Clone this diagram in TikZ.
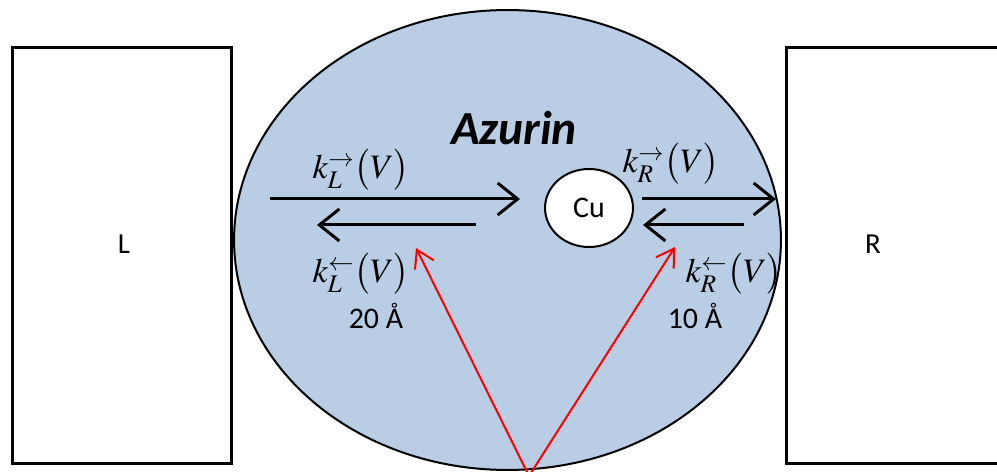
\documentclass[tikz,border=0pt]{standalone}
\usepackage{mathptmx}
\usepackage[no-math]{fontspec}
\setmainfont{Carlito}
\usetikzlibrary{positioning,arrows.meta,shapes.geometric}
\definecolor{azfill}{HTML}{B9CDE5}

\begin{document}
\begin{tikzpicture}[x=0.02cm,y=-0.02cm,
  lead/.style={draw,line width=0.06cm,minimum width=4.4cm,minimum height=8.34cm},
  hop/.style={line width=0.06cm,-{Straight Barb[length=0.4cm,width=0.64cm]}},
  dist/.style={red,line width=0.04cm,-{Straight Barb[length=0.34cm,width=0.42cm]}},
  rate/.style={font=\fontsize{19.5}{24}\selectfont},
  lbl/.style={font=\fontsize{17}{20}\selectfont}]
\useasboundingbox (0,0) rectangle (997,472);
\clip (0,0) rectangle (997,472);
\node[lead] (Lbox) at (122,255.5) {};
\node[lead] (Rbox) at (896,255.5) {};
\node[font=\fontsize{16.5}{19}\selectfont] (Ltext) at (124,244) {L};
\node[font=\fontsize{16.5}{19}\selectfont] (Rtext) at (873,244) {R};
\node[ellipse,draw,fill=azfill,line width=0.04cm,minimum width=10.94cm,minimum height=9.2cm] (azurin) at (507.5,240) {};
\node[ellipse,draw,fill=white,line width=0.04cm,minimum width=1.76cm,minimum height=1.56cm,font=\fontsize{17}{20}\selectfont] (cu) at (589,208) {Cu};
\node[font=\fontsize{27}{32}\bfseries\itshape\selectfont] (title) at (514,128) {Azurin};
\coordinate (la) at (270,199);
\coordinate (lb) at (520,199);
\coordinate (lc) at (476,225);
\coordinate (ld) at (317,225);
\coordinate (ra) at (642,199);
\coordinate (rb) at (776,199);
\coordinate (rc) at (744,225);
\coordinate (rd) at (643,225);
\draw[hop] (la) -- (lb);
\draw[hop] (lc) -- (ld);
\draw[hop] (ra) -- (rb);
\draw[hop] (rc) -- (rd);
\node[rate] (kLf) at (361,170) {$k_L^{\rightarrow}\bigl(V\bigr)$};
\node[rate] (kLb) at (361,274) {$k_L^{\leftarrow}\bigl(V\bigr)$};
\node[rate] (kRf) at (671,164) {$k_R^{\rightarrow}\bigl(V\bigr)$};
\node[rate] (kRb) at (734,274) {$k_R^{\leftarrow}\bigl(V\bigr)$};
\node[lbl] (dL) at (376,316) {20 Å};
\node[lbl] (dR) at (695,316) {10 Å};
\coordinate (src) at (529,476);
\coordinate (tipL) at (416,248);
\coordinate (tipR) at (675,247);
\draw[dist] (src) -- (tipL);
\draw[dist] (src) -- (tipR);
\end{tikzpicture}
\end{document}
